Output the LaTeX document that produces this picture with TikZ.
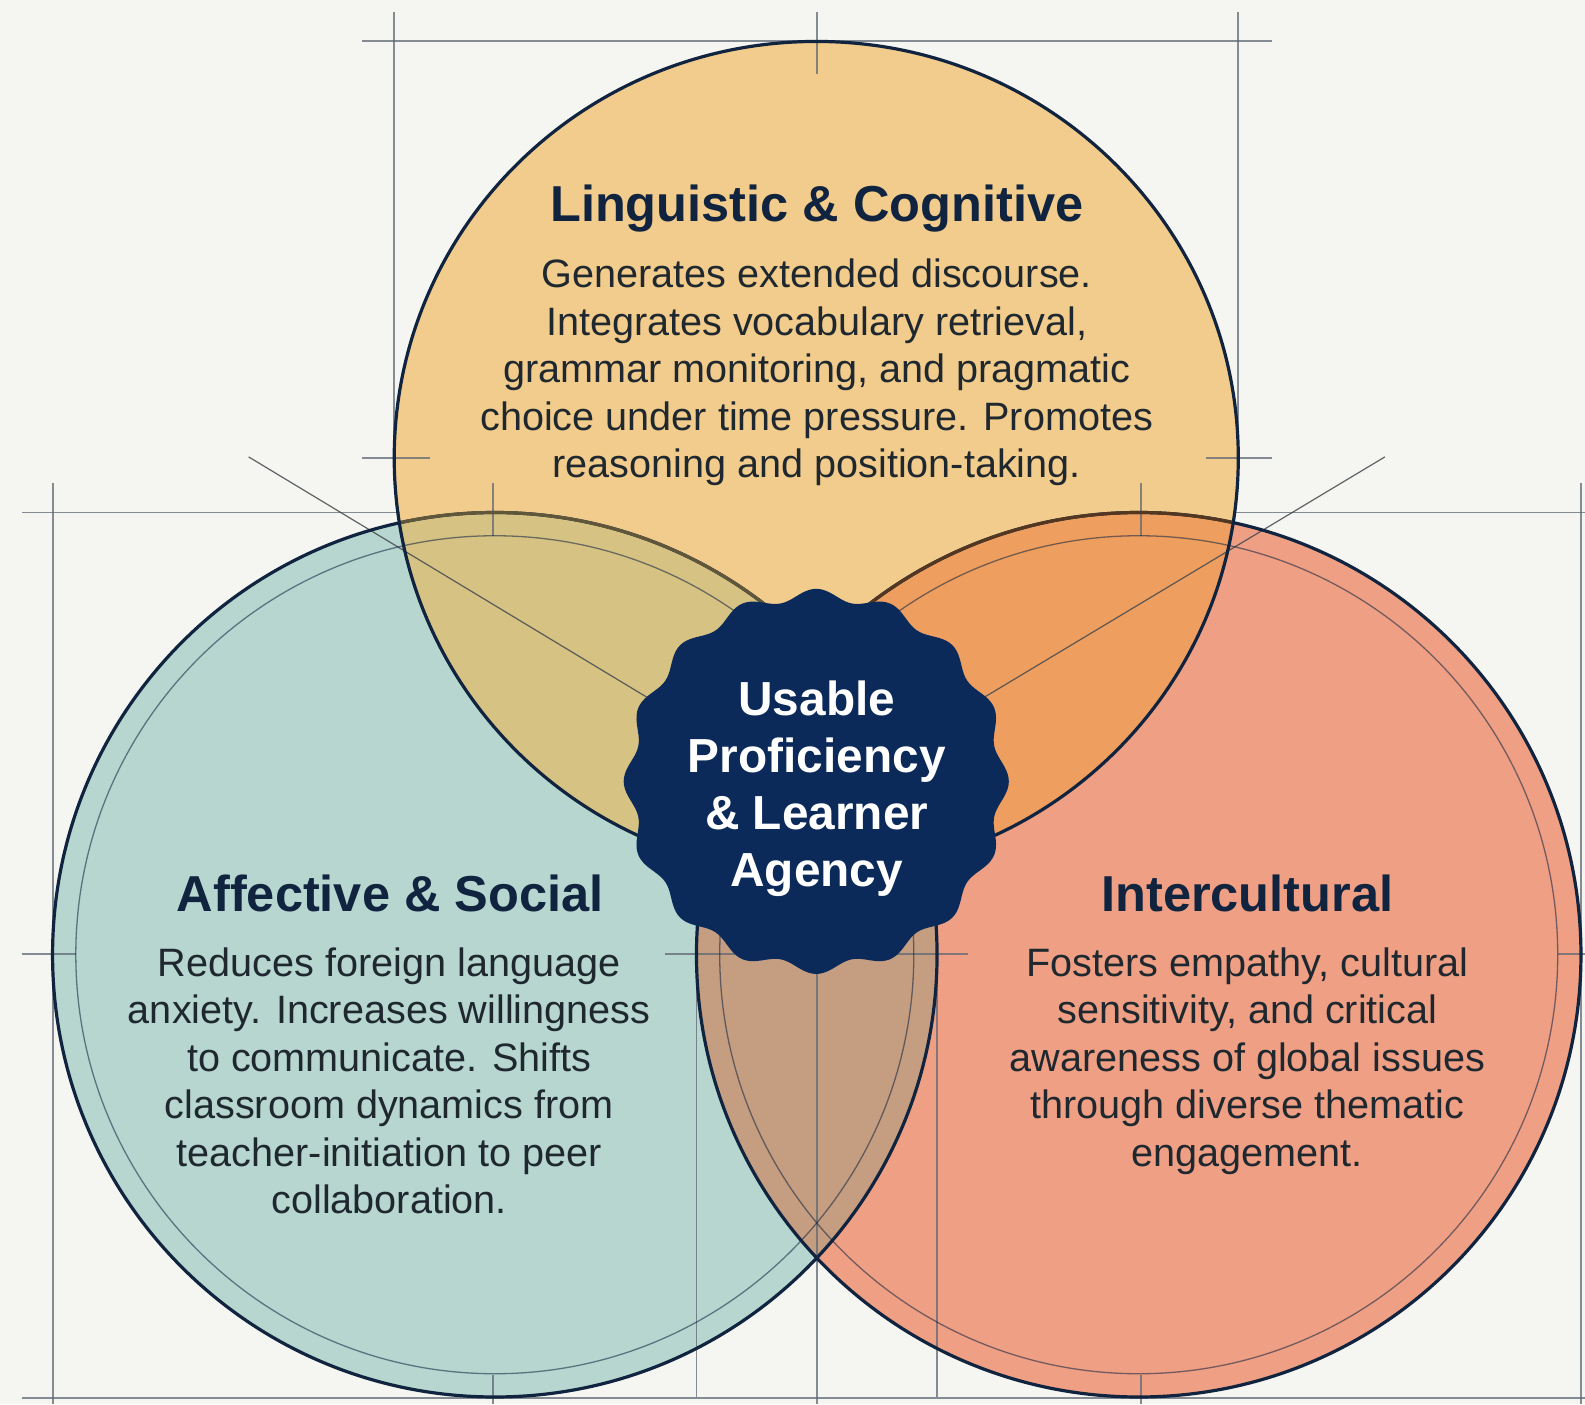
\documentclass[tikz,border=0pt]{standalone}
\usepackage{fontspec}
\setmainfont{Liberation Sans}
\definecolor{bgc}{HTML}{F5F5F1}
\definecolor{topc}{HTML}{F2CC8C}
\definecolor{leftc}{HTML}{B6D6CF}
\definecolor{rightc}{HTML}{EE9F84}
\definecolor{tlc}{HTML}{D6C283}
\definecolor{trc}{HTML}{EE9E5E}
\definecolor{lrc}{HTML}{C59D80}
\definecolor{navy}{HTML}{0B2A5A}
\definecolor{ink}{HTML}{10233F}
\definecolor{bodyc}{HTML}{1F282F}
\definecolor{guide}{HTML}{5F6873}
\tikzset{
  guideline/.style={draw=guide,line width=1.9pt,opacity=.75},
  diag/.style={draw=guide!70!black,line width=1.2pt,opacity=.85},
  outer/.style={draw=ink,line width=3.2pt},
  ringline/.style={draw=ink,line width=1.3pt,opacity=.55},
  titletext/.style={font=\fontsize{50.5}{56}\selectfont\bfseries,text=ink,inner sep=0pt,align=center},
  bodytext/.style={font=\fontsize{39.6}{47.5}\selectfont,text=bodyc,inner sep=0pt,align=center},
  startext/.style={font=\fontsize{47.8}{57}\selectfont\bfseries,text=white,inner sep=0pt,align=center},
}
\def\TopC{(807.5,453) ellipse [x radius=417.5,y radius=412]}
\def\LeftC{(489.5,944.5) circle [radius=437.5]}
\def\RightC{(1126.5,944.5) circle [radius=437.5]}
\def\LeftR{(489.5,944.5) circle [radius=414.5]}
\def\RightR{(1126.5,944.5) circle [radius=414.5]}
\begin{document}
\begin{tikzpicture}[x=1.0108pt,y=-1.0108pt]
\useasboundingbox (0,0) rectangle (1568,1389);
\fill[bgc] (0,0) rectangle (1568,1389);
% fills
\fill[leftc] \LeftC;
\fill[rightc] \RightC;
\fill[topc] \TopC;
\begin{scope}\clip \TopC; \fill[tlc] \LeftC; \fill[trc] \RightC; \end{scope}
\begin{scope}\clip \LeftC; \fill[lrc] \RightC; \end{scope}
% guides
\draw[guideline] (358,41) -- (1258,41);
\draw[guideline] (390,12) -- (390,453);
\draw[guideline] (1225,12) -- (1225,453);
\draw[guideline] (808,12) -- (808,73);
\draw[guideline] (358,453) -- (425,453);
\draw[guideline] (1193,453) -- (1258,453);
\draw[guideline] (22,507) -- (396,507);
\draw[guideline] (1221,507) -- (1568,507);
\draw[guideline] (52,478) -- (52,1389);
\draw[guideline] (1564,478) -- (1564,1389);
\draw[guideline] (488,478) -- (488,530);
\draw[guideline] (1129,478) -- (1129,530);
\draw[guideline] (22,944) -- (75,944);
\draw[guideline] (1541,944) -- (1568,944);
\draw[guideline] (658,944) -- (958,944);
\draw[guideline] (689,900) -- (689,1382);
\draw[guideline] (927,900) -- (927,1382);
\draw[guideline] (808,900) -- (808,1389);
\draw[guideline] (22,1383) -- (1568,1383);
\draw[guideline] (488,1360) -- (488,1389);
\draw[guideline] (1129,1360) -- (1129,1389);
\draw[diag] (246,452) -- (700,726);
\draw[diag] (1370,452) -- (920,722);
% rings and outlines
\draw[ringline] \LeftR;
\draw[ringline] \RightR;
\draw[outer] \LeftC;
\draw[outer] \RightC;
\begin{scope}\clip \TopC;
  \draw[draw=tlc!45!black,line width=3.2pt] \LeftC;
  \draw[draw=trc!35!black,line width=3.2pt] \RightC;
\end{scope}
\draw[outer] \TopC;
% seal
\fill[navy] plot[domain=0:360,samples=321,smooth cycle] ({807.5+(185+5.5*cos(16*\x))*cos(\x+90)},{773+(185+5.5*cos(16*\x))*sin(\x+90)});
% text
\node[titletext] (ttop) at (808,206) {Linguistic \& Cognitive};
\node[bodytext,anchor=north] (btop) at (808,256) {Generates extended discourse.\\Integrates vocabulary retrieval,\\grammar monitoring, and pragmatic\\choice under time pressure. Promotes\\reasoning and position-taking.};
\node[titletext] (tleft) at (386,884) {Affective \& Social};
\node[bodytext,anchor=north] (bleft) at (385,937) {Reduces foreign language\\anxiety. Increases willingness\\to communicate. Shifts\\classroom dynamics from\\teacher-initiation to peer\\collaboration.};
\node[titletext] (tright) at (1234,884) {Intercultural};
\node[bodytext,anchor=north] (bright) at (1234,937) {Fosters empathy, cultural\\sensitivity, and critical\\awareness of global issues\\through diverse thematic\\engagement.};
\node[startext] (seal) at (808,780) {Usable\\Proficiency\\\&\ Learner\\Agency};
\end{tikzpicture}
\end{document}
